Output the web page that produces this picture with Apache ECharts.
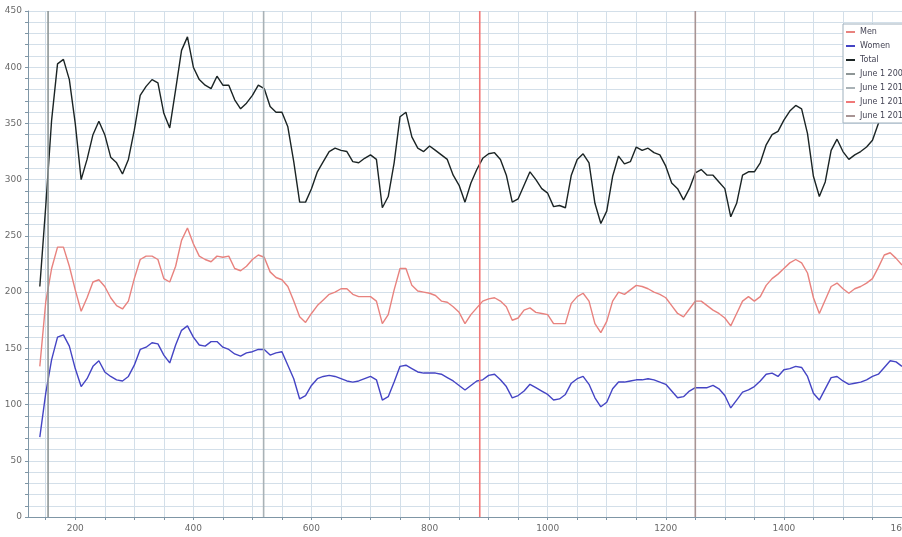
<!DOCTYPE html>
<html>
<head>
<meta charset="utf-8">
<script src="https://cdn.jsdelivr.net/npm/echarts@6/dist/echarts.min.js"></script>
<style>
  html, body { margin: 0; padding: 0; background: #fff; }
  #chart { width: 902px; height: 537px; }
</style>
</head>
<body>
<div id="chart"></div>
<script>
// Daily counts, sampled every 10 days starting at day 140
const firstDay = 140;
const dayStep = 10;

const totalValues = [
  205, 276, 353, 403, 407, 389, 350, 300, 318, 340, 352, 340, 320, 315, 305, 318, 344, 375, 383, 389,
  386, 359, 346, 380, 415, 427, 400, 389, 384, 381, 392, 384, 384, 371, 363, 368, 375, 384, 381, 365,
  360, 360, 347, 316, 280, 280, 292, 307, 316, 325, 328, 326, 325, 316, 315, 319, 322, 318, 275, 285,
  315, 356, 360, 338, 328, 325, 330, 326, 322, 318, 304, 295, 280, 297, 309, 319, 323, 324, 318, 304,
  280, 283, 295, 307, 300, 292, 288, 276, 277, 275, 304, 318, 323, 315, 279, 261, 272, 303, 321, 314,
  316, 329, 326, 328, 324, 322, 312, 297, 292, 282, 292, 306, 309, 304, 304, 298, 292, 267, 279, 304,
  307, 307, 315, 331, 340, 343, 353, 361, 366, 363, 341, 303, 285, 298, 326, 336, 325, 318, 322, 325,
  329, 335, 350, 366, 374, 368, 358
];

const menValues = [
  134, 191, 221, 240, 240, 223, 202, 183, 195, 209, 211, 205, 195, 188, 185, 192, 212, 229, 232, 232,
  229, 212, 209, 223, 246, 257, 243, 232, 229, 227, 232, 231, 232, 221, 219, 223, 229, 233, 231, 218,
  213, 211, 205, 192, 178, 173, 181, 188, 193, 198, 200, 203, 203, 198, 196, 196, 196, 192, 172, 180,
  202, 221, 221, 206, 201, 200, 199, 197, 192, 191, 187, 182, 172, 180, 186, 192, 194, 195, 192, 187,
  175, 177, 184, 186, 182, 181, 180, 172, 172, 172, 190, 196, 199, 192, 172, 164, 174, 192, 200, 198,
  202, 206, 205, 203, 200, 198, 195, 188, 181, 178, 185, 192, 192, 188, 184, 181, 177, 170, 181, 192,
  196, 192, 196, 206, 212, 216, 221, 226, 229, 226, 217, 195, 181, 193, 205, 208, 203, 199, 203, 205,
  208, 212, 222, 233, 235, 230, 224
];

const womenValues = [
  71, 110, 140, 160, 162, 152, 132, 116, 123, 134, 139, 129, 125, 122, 121, 125, 135, 149, 151, 155,
  154, 144, 137, 153, 166, 170, 160, 153, 152, 156, 156, 151, 149, 145, 143, 146, 147, 149, 149, 144,
  146, 147, 135, 123, 105, 108, 117, 123, 125, 126, 125, 123, 121, 120, 121, 123, 125, 122, 104, 107,
  120, 134, 135, 132, 129, 128, 128, 128, 127, 124, 121, 117, 113, 117, 121, 122, 126, 127, 122, 116,
  106, 108, 112, 118, 115, 112, 109, 104, 105, 109, 119, 123, 125, 118, 106, 98, 102, 114, 120, 120,
  121, 122, 122, 123, 122, 120, 118, 112, 106, 107, 112, 115, 115, 115, 117, 114, 108, 97, 104, 111,
  113, 116, 121, 127, 128, 125, 131, 132, 134, 133, 125, 110, 104, 114, 124, 125, 121, 118, 119, 120,
  122, 125, 127, 133, 139, 138, 134
];

// Reference dates (June 1 of each year) on the day axis
const juneNames = ['June 1 2009', 'June 1 2010', 'June 1 2011', 'June 1 2012'];
const juneDays = [154, 519, 885, 1250];
const juneColors = ['#8e9696', '#a9b2b6', '#f07878', '#a89494'];

// Axis ranges and tick labels
const xMin = 120, xMax = 1600;
const yMin = 0, yMax = 450;
const xTickLabels = [200, 400, 600, 800, 1000, 1200, 1400, 1600];
const xMinorStep = 50;
const yTickLabels = [0, 50, 100, 150, 200, 250, 300, 350, 400, 450];
const yMinorStep = 10;

const days = totalValues.map((_, i) => firstDay + i * dayStep);
const pairs = vals => vals.map((v, i) => [days[i], v]);

// Grid lines every 50 days from the first round value past xMin
const xGridValues = [];
for (let v = Math.ceil(xMin / xMinorStep) * xMinorStep; v <= xMax; v += xMinorStep) {
  if (v > xMin) xGridValues.push(v);
}

const gridColor = '#d3dfe9';
const axisColor = '#7f96a6';
const labelFont = { color: '#6a6a6a', fontSize: 9, fontFamily: 'DejaVu Sans' };

const dataSeries = [
  { name: 'Men', values: menValues, color: '#e8827e' },
  { name: 'Women', values: womenValues, color: '#4444c4' },
  { name: 'Total', values: totalValues, color: '#1b2424' }
].map(s => ({
  name: s.name,
  type: 'line',
  data: pairs(s.values),
  symbol: 'none',
  lineStyle: { color: s.color, width: 1.4 },
  itemStyle: { color: s.color },
  z: 3,
  animation: false
}));

const juneSeries = juneNames.map((name, i) => ({
  name,
  type: 'line',
  data: [[juneDays[i], yMin], [juneDays[i], yMax]],
  symbol: 'none',
  lineStyle: { color: juneColors[i], width: 1.6 },
  itemStyle: { color: juneColors[i] },
  z: 4,
  animation: false
}));

const chart = echarts.init(document.getElementById('chart'), null, { renderer: 'canvas' });
chart.setOption({
  animation: false,
  backgroundColor: '#ffffff',
  grid: { left: 28, top: 11, right: 0, bottom: 20, containLabel: false, outerBoundsMode: 'none' },
  legend: {
    orient: 'vertical',
    left: 843,
    top: 24,
    icon: 'rect',
    itemWidth: 9,
    itemHeight: 2,
    itemGap: 6,
    padding: [4, 4, 3, 3],
    backgroundColor: '#ffffff',
    borderColor: '#9fb0bd',
    borderWidth: 1,
    borderRadius: 0,
    textStyle: { color: '#445', fontSize: 8, fontFamily: 'DejaVu Sans' },
    data: ['Men', 'Women', 'Total'].concat(juneNames)
  },
  xAxis: {
    type: 'value',
    min: xMin,
    max: xMax,
    axisLine: { show: true, lineStyle: { color: axisColor, width: 1 } },
    axisTick: { show: true, length: 3, customValues: xGridValues, lineStyle: { color: axisColor } },
    axisLabel: {
      ...labelFont,
      margin: 7,
      customValues: xTickLabels,
      alignMaxLabel: 'center',
      formatter: v => String(v)
    },
    splitLine: { show: true, lineStyle: { color: gridColor, width: 1 } }
  },
  yAxis: {
    type: 'value',
    min: yMin,
    max: yMax,
    interval: yMinorStep,
    axisLine: { show: true, lineStyle: { color: axisColor, width: 1 } },
    axisTick: { show: true, length: 3, lineStyle: { color: axisColor } },
    axisLabel: {
      ...labelFont,
      margin: 6,
      formatter: v => (yTickLabels.includes(v) ? String(v) : '')
    },
    splitLine: { show: true, lineStyle: { color: gridColor, width: 1 } }
  },
  series: dataSeries.concat(juneSeries)
});
</script>
</body>
</html>
